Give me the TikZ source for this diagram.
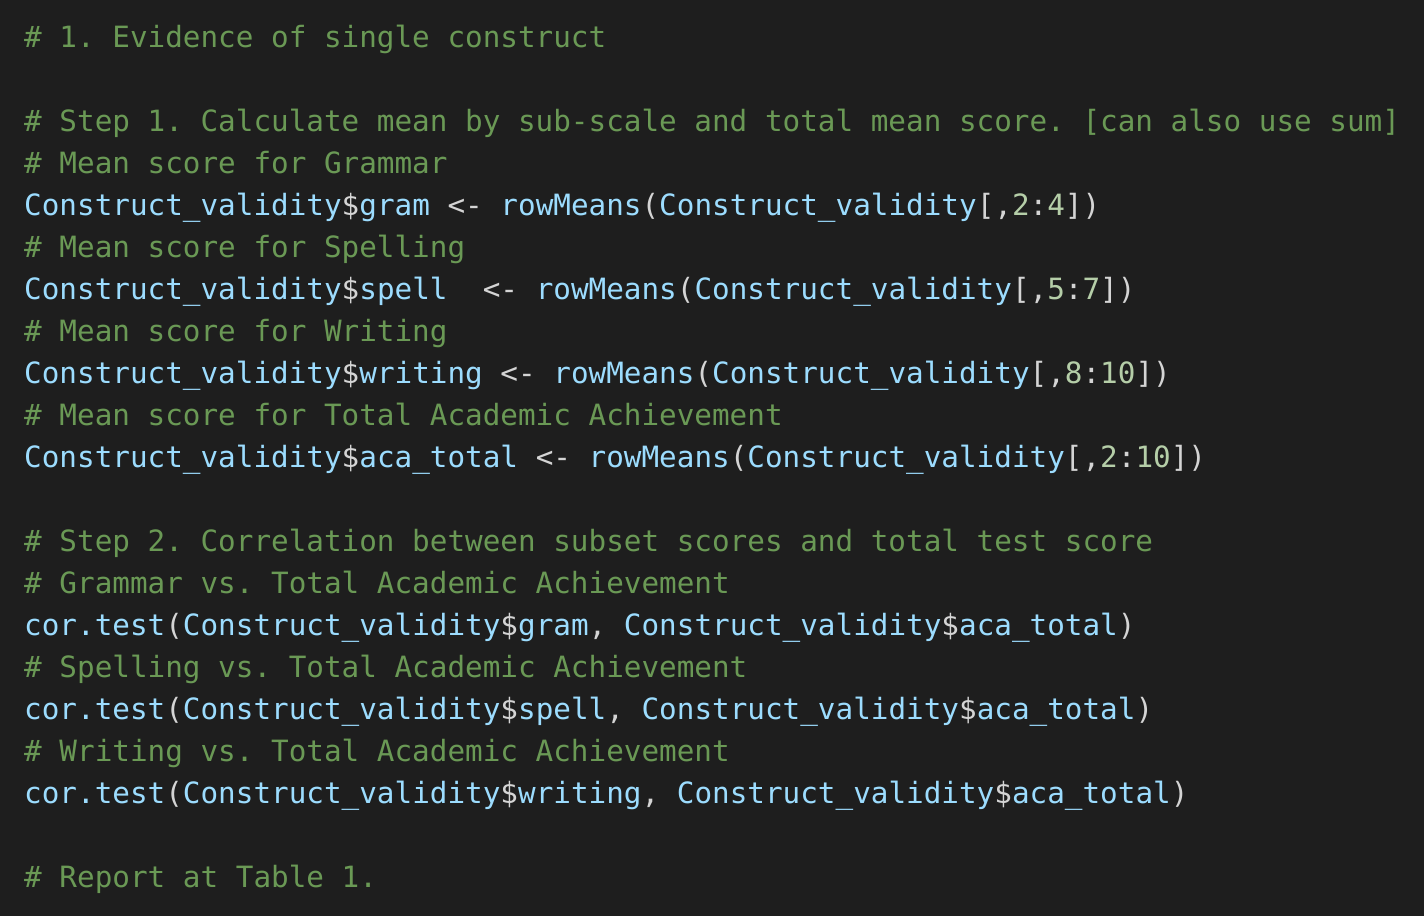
\documentclass[tikz,border=0pt]{standalone}
\usepackage{fontspec}
\setmonofont{DejaVu Sans Mono}
\definecolor{bg}{HTML}{1E1E1E}
\definecolor{cm}{HTML}{6A9955}
\definecolor{id}{HTML}{9CDCFE}
\definecolor{op}{HTML}{D4D4D4}
\definecolor{nm}{HTML}{B5CEA8}
\newcommand{\C}[1]{\textcolor{cm}{#1}}
\newcommand{\I}[1]{\textcolor{id}{#1}}
\newcommand{\N}[1]{\textcolor{nm}{#1}}
\begin{document}
\begin{tikzpicture}[x=1pt,y=1pt,
  codeline/.style={anchor=base west,inner sep=0pt,font=\ttfamily\fontsize{29.3}{29.3}\selectfont,text=op}]
\fill[bg] (0,0) rectangle (1424,-916);
\useasboundingbox (0,0) rectangle (1424,-916);
\node[codeline] (l0) at (24,-47) {\C{\# 1. Evidence of single construct}};
\node[codeline] (l2) at (24,-131) {\C{\# Step 1. Calculate mean by sub-scale and total mean score. [can also use sum]}};
\node[codeline] (l3) at (24,-173) {\C{\# Mean score for Grammar}};
\node[codeline] (l4) at (24,-215) {\I{Construct\_validity}\$\I{gram} <- \I{rowMeans}(\I{Construct\_validity}[,\N{2}:\N{4}])};
\node[codeline] (l5) at (24,-257) {\C{\# Mean score for Spelling}};
\node[codeline] (l6) at (24,-299) {\I{Construct\_validity}\$\I{spell}\ \ <- \I{rowMeans}(\I{Construct\_validity}[,\N{5}:\N{7}])};
\node[codeline] (l7) at (24,-341) {\C{\# Mean score for Writing}};
\node[codeline] (l8) at (24,-383) {\I{Construct\_validity}\$\I{writing} <- \I{rowMeans}(\I{Construct\_validity}[,\N{8}:\N{10}])};
\node[codeline] (l9) at (24,-425) {\C{\# Mean score for Total Academic Achievement}};
\node[codeline] (l10) at (24,-467) {\I{Construct\_validity}\$\I{aca\_total} <- \I{rowMeans}(\I{Construct\_validity}[,\N{2}:\N{10}])};
\node[codeline] (l12) at (24,-551) {\C{\# Step 2. Correlation between subset scores and total test score}};
\node[codeline] (l13) at (24,-593) {\C{\# Grammar vs. Total Academic Achievement}};
\node[codeline] (l14) at (24,-635) {\I{cor.test}(\I{Construct\_validity}\$\I{gram}, \I{Construct\_validity}\$\I{aca\_total})};
\node[codeline] (l15) at (24,-677) {\C{\# Spelling vs. Total Academic Achievement}};
\node[codeline] (l16) at (24,-719) {\I{cor.test}(\I{Construct\_validity}\$\I{spell}, \I{Construct\_validity}\$\I{aca\_total})};
\node[codeline] (l17) at (24,-761) {\C{\# Writing vs. Total Academic Achievement}};
\node[codeline] (l18) at (24,-803) {\I{cor.test}(\I{Construct\_validity}\$\I{writing}, \I{Construct\_validity}\$\I{aca\_total})};
\node[codeline] (l20) at (24,-887) {\C{\# Report at Table 1.}};
\end{tikzpicture}
\end{document}
